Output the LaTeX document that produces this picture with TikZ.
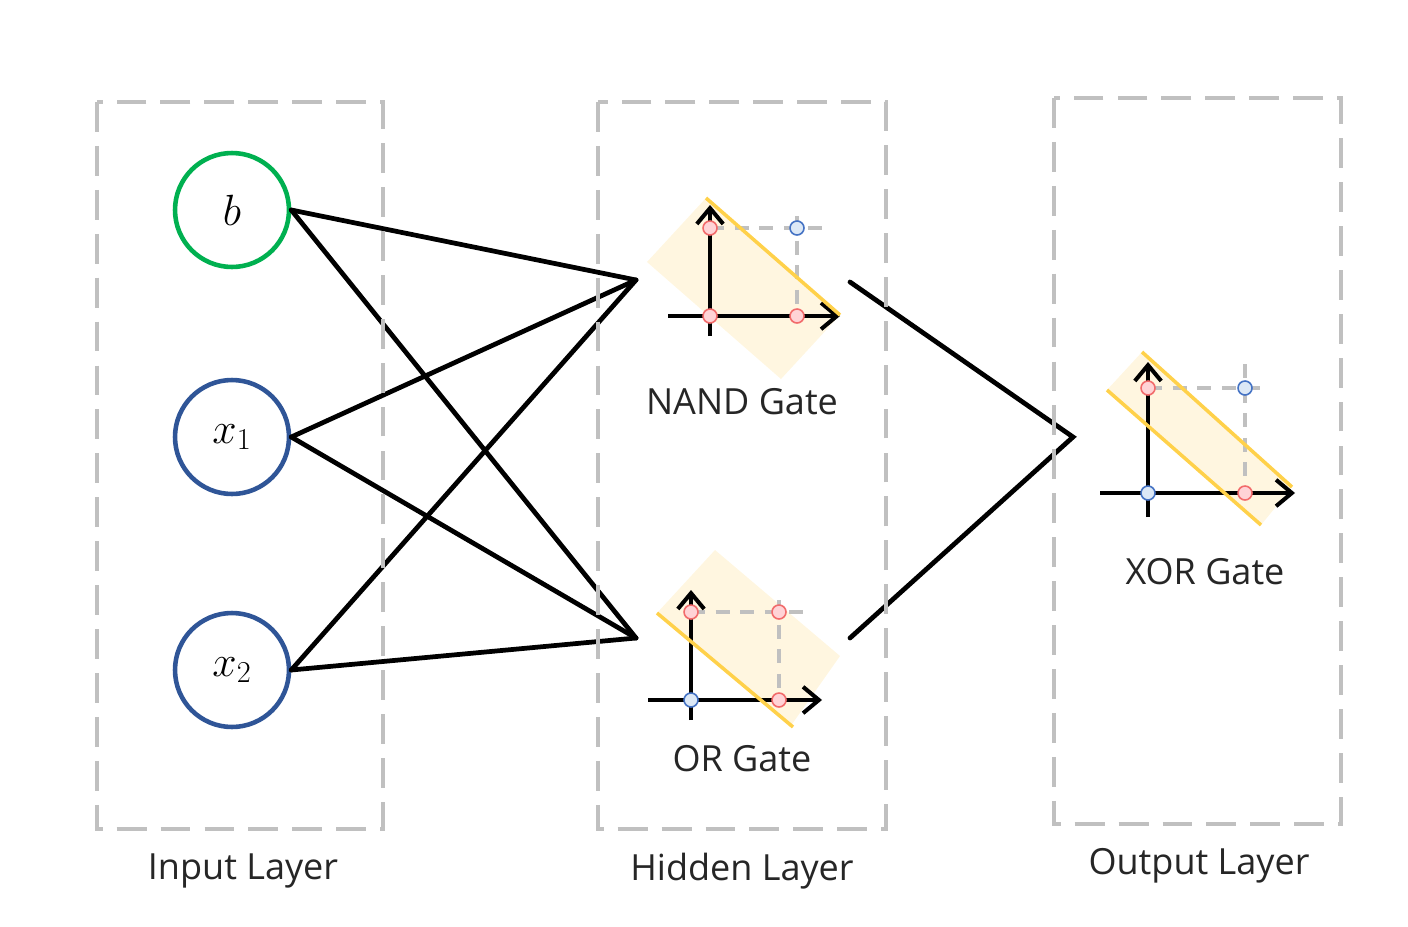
\documentclass[tikz,border=0pt]{standalone}
\usepackage{fontspec}
\setmainfont{Open Sans}
\usetikzlibrary{arrows.meta,positioning}
\definecolor{boxgray}{HTML}{C0C0C0}
\definecolor{biasgreen}{HTML}{00B050}
\definecolor{inblue}{HTML}{2F5597}
\definecolor{gateyellow}{HTML}{FFD14A}
\definecolor{shadeyellow}{HTML}{FFF6E0}
\definecolor{ptred}{HTML}{F26B6B}
\definecolor{ptredfill}{HTML}{FFD3D6}
\definecolor{ptblue}{HTML}{4472C4}
\definecolor{ptbluefill}{HTML}{DCE8F6}
\definecolor{textgray}{HTML}{262626}

\begin{document}
\begin{tikzpicture}[x=0.02cm,y=-0.02cm,
  layerbox/.style={draw=boxgray,line width=2.6pt,dash pattern=on 17pt off 8pt},
  neuron/.style={circle,line width=2.6pt,minimum size=2.28cm,inner sep=0pt,font=\fontsize{25}{30}\selectfont},
  link/.style={line width=2.7pt,line cap=round},
  axis/.style={line width=2.3pt,-{Straight Barb[length=9pt,width=15pt,line width=2.3pt]}},
  gridline/.style={draw=boxgray,line width=2pt,dash pattern=on 8pt off 6pt},
  border/.style={draw=gateyellow,line width=2pt},
  shade/.style={fill=shadeyellow},
  redpt/.style={circle,draw=ptred,fill=ptredfill,line width=0.9pt,minimum size=0.28cm,inner sep=0pt},
  bluept/.style={circle,draw=ptblue,fill=ptbluefill,line width=0.9pt,minimum size=0.28cm,inner sep=0pt},
  caption/.style={text=textgray,font=\fontsize{20.5}{24}\selectfont}]
\useasboundingbox (0,0) rectangle (1408,926);

%Input layer
\node[neuron,draw=biasgreen] (b) at (232,210) {$b$};
\node[neuron,draw=inblue] (x1) at (232,437) {$x_1$};
\node[neuron,draw=inblue] (x2) at (232,670) {$x_2$};

%free ends
\coordinate (nandin) at (636,280);
\coordinate (orin) at (636,638);
\coordinate (nandout) at (850,282);
\coordinate (orout) at (850,638);
\coordinate (xorin) at (1073,437);

%connections
\foreach \n in {b,x1,x2} {
  \draw[link] (\n.east) -- (nandin);
  \draw[link] (\n.east) -- (orin);
}
\draw[link] (nandout) -- (xorin) -- (orout);

%layer boxes
\draw[layerbox] (97,102) rectangle (383,829);
\draw[layerbox] (598,102) rectangle (886,829);
\draw[layerbox] (1054,98) rectangle (1341,824);
\node[caption] (inlabel) at (243,871) {Input Layer};
\node[caption] (hidlabel) at (742,871) {Hidden Layer};
\node[caption] (outlabel) at (1199,866) {Output Layer};

%NAND
\fill[shade] (706,198) -- (840,315) -- (781,379) -- (647,262) -- cycle;
\draw[gridline] (710,228) -- (822,228) (797,216) -- (797,316);
\draw[axis] (668,316) -- (840,316);
\draw[axis] (710,336) -- (710,205);
\draw[border] (706,198) -- (840,315);
\node[redpt] (n00) at (710,316) {};
\node[redpt] (n01) at (710,228) {};
\node[redpt] (n10) at (797,316) {};
\node[bluept] (n11) at (797,228) {};
\node[caption] (nandlabel) at (742,402) {NAND Gate};

%OR
\fill[shade] (657,613) -- (715,550) -- (840,656) -- (790,727) -- cycle;
\draw[gridline] (691,612) -- (805,612) (779,600) -- (779,700);
\draw[axis] (648,700) -- (822,700);
\draw[axis] (691,720) -- (691,590);
\draw[border] (657,613) -- (793,727);
\node[bluept] (o00) at (691,700) {};
\node[redpt] (o01) at (691,612) {};
\node[redpt] (o10) at (779,700) {};
\node[redpt] (o11) at (779,612) {};
\node[caption] (orlabel) at (742,759) {OR Gate};

%XOR
\fill[shade] (1142,352) -- (1292,487) -- (1261,525) -- (1107,390) -- cycle;
\draw[gridline] (1148,388) -- (1270,388) (1245,364) -- (1245,493);
\draw[axis] (1100,493) -- (1295,493);
\draw[axis] (1148,517) -- (1148,362);
\draw[border] (1142,352) -- (1292,487) (1107,390) -- (1261,525);
\node[bluept] (x00) at (1148,493) {};
\node[redpt] (x01) at (1148,388) {};
\node[redpt] (x10) at (1245,493) {};
\node[bluept] (x11) at (1245,388) {};
\node[caption] (xorlabel) at (1205,572) {XOR Gate};
\end{tikzpicture}
\end{document}
